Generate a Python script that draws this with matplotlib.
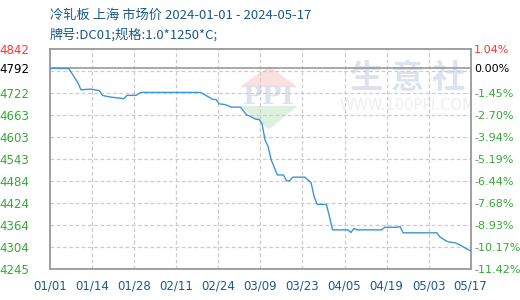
import numpy as np
import matplotlib
matplotlib.use("Agg")
import matplotlib.pyplot as plt
from matplotlib.patches import Polygon

plt.rcParams['font.family'] = ['Noto Sans CJK SC', 'DejaVu Sans']

# price series (day offset from 2024-01-01, yuan/t)
days = [0, 6, 7, 9, 10, 13, 16, 17, 18, 20, 24, 25, 28, 29, 30, 49, 53, 54, 55, 57,
        59, 62, 64, 65, 67, 68, 69, 70, 71, 72, 74, 76, 77, 78, 79, 83, 85, 86, 87, 90,
        91, 92, 97, 98, 99, 100, 108, 109, 113, 114, 115, 126, 127, 129, 130, 132,
        134, 135, 137]
prices = [4790, 4790, 4777, 4751, 4732, 4734, 4730, 4717, 4715, 4712, 4708, 4717, 4717,
          4723, 4725, 4725, 4706, 4706, 4694, 4692, 4685, 4685, 4664, 4661, 4652, 4652,
          4641, 4596, 4578, 4542, 4501, 4501, 4485, 4485, 4495, 4495, 4480, 4442, 4421,
          4421, 4388, 4352, 4352, 4345, 4356, 4352, 4352, 4359, 4359, 4361, 4344, 4344,
          4333, 4322, 4319, 4317, 4309, 4304, 4295]

x_labels = ['01/01', '01/14', '01/28', '02/11', '02/24', '03/09', '03/23',
            '04/05', '04/19', '05/03', '05/17']
y_min, y_max, base = 4245, 4842, 4792
y_labels = ['4842', '4792', '4722', '4663', '4603', '4543', '4484', '4424', '4364', '4304', '4245']
pct_labels = ['1.04%', '0.00%', '-1.45%', '-2.70%', '-3.94%', '-5.19%', '-6.44%',
              '-7.68%', '-8.93%', '-10.17%', '-11.42%']

grid_vals = np.linspace(y_min, y_max, 11)
tick_vals = [y_max, base] + list(grid_vals[8::-1])
label_cols = ['#ff3333', 'black'] + ['#33aa33'] * 9

fig = plt.figure(figsize=(5.2, 3.0), dpi=100)
ax = fig.add_axes([0.0967, 0.1023, 0.8083, 0.7334])

ax.set_xlim(0, 137)
ax.set_ylim(y_min, y_max)

# dashed grid
for v in grid_vals[1:-1]:
    ax.axhline(v, color='#cccccc', lw=0.9, ls=(0, (3, 2)), zorder=1)
xt = np.linspace(0, 137, 11)
for v in xt[1:-1]:
    ax.axvline(v, color='#cccccc', lw=0.9, ls=(0, (3, 2)), zorder=1)
ax.axhline(base, color='#999999', lw=1.2, zorder=2)

# watermark
wm = '#dde3ee'
ax.add_patch(Polygon([(0.52, 0.92), (0.585, 0.83), (0.455, 0.83)], closed=True,
                     transform=ax.transAxes, color='#fbe0e0', zorder=0))
ax.add_patch(Polygon([(0.455, 0.74), (0.585, 0.74), (0.52, 0.64)], closed=True,
                     transform=ax.transAxes, color='#dff0df', zorder=0))
ax.text(0.52, 0.785, 'PPI', transform=ax.transAxes, ha='center', va='center',
        fontsize=19, color=wm, family='DejaVu Serif', fontweight='bold', zorder=0)
ax.text(0.85, 0.868, '生 意 社', transform=ax.transAxes, ha='center', va='center',
        fontsize=24, color=wm, fontweight='bold', zorder=0)
ax.text(0.85, 0.745, 'WWW.100PPI.COM', transform=ax.transAxes, ha='center', va='center',
        fontsize=10.5, color='#eceef2', family='DejaVu Sans', zorder=0, clip_on=True)

ax.plot(days, prices, color='#3a96d6', lw=1.0, zorder=3)

for s in ax.spines.values():
    s.set_color('#999999')
    s.set_linewidth(1.3)

ax.set_xticks(xt)
ax.set_xticklabels(x_labels, color='#1a5a8a', fontsize=8.5, family='DejaVu Sans')
ax.tick_params(axis='x', length=0, pad=7)

ax.set_yticks(tick_vals)
ax.set_yticklabels(y_labels, fontsize=8.5, family='DejaVu Sans')
for lab, c in zip(ax.get_yticklabels(), label_cols):
    lab.set_color(c)
ax.tick_params(axis='y', length=0, pad=15)

ax2 = ax.twinx()
ax2.set_ylim(y_min, y_max)
ax2.set_yticks(tick_vals)
ax2.set_yticklabels(pct_labels, fontsize=8, family='DejaVu Sans')
for lab, c in zip(ax2.get_yticklabels(), label_cols):
    lab.set_color(c)
ax2.tick_params(axis='y', length=0, pad=2.5)
for s in ax2.spines.values():
    s.set_visible(False)

fig.text(0.096, 0.948, '冷轧板 上海 市场价 2024-01-01 - 2024-05-17', fontsize=9.5,
         color='#1a5a8a', va='center')
fig.text(0.096, 0.885, '牌号:DC01;规格:1.0*1250*C;', fontsize=9.5,
         color='#1a5a8a', va='center')

fig.savefig('out.png', dpi=100)
